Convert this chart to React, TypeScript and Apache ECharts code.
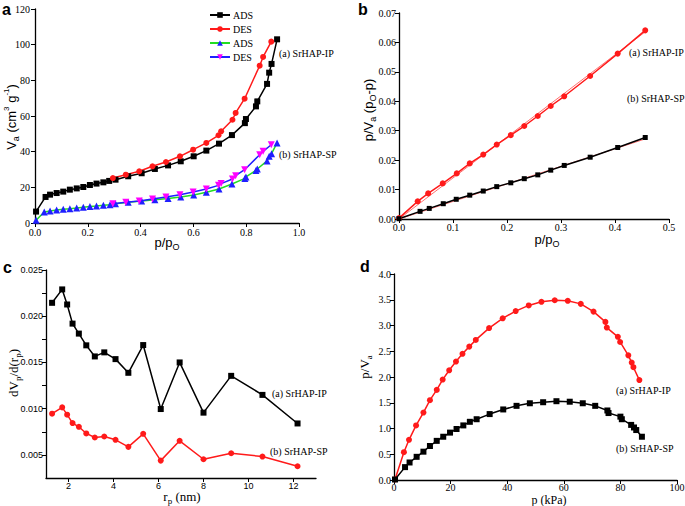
import React, { useEffect, useRef } from "react";
import * as echarts from "echarts";

// ---- Panel a: N2 isotherms ----
const aAdsIPx = [0.004,0.040,0.057,0.082,0.107,0.132,0.158,0.183,0.208,0.233,0.259,0.281,0.305,0.353,0.404,0.454,0.504,0.552,0.601,0.649,0.697,0.746,0.795,0.799,0.837,0.842,0.879,0.887,0.896,0.917];
const aAdsIPy = [6.4,14.6,15.9,16.8,17.6,18.7,19.4,20.2,21.3,22.1,22.8,23.6,24.3,26.2,27.9,30.3,32.3,34.6,37.4,40.6,44.5,49.3,56.0,58.3,65.4,68.2,78.0,84.3,89.2,103.0];
const aDesIPx = [0.295,0.344,0.395,0.445,0.496,0.549,0.599,0.649,0.695,0.705,0.748,0.760,0.794,0.851,0.864,0.895];
const aDesIPy = [25.2,27.1,29.0,31.8,34.2,37.4,41.1,44.9,49.2,51.4,57.9,61.7,69.7,88.2,93.1,101.7];
const aAdsSPx = [0.004,0.035,0.057,0.082,0.107,0.132,0.158,0.183,0.208,0.233,0.259,0.284,0.305,0.353,0.404,0.454,0.504,0.552,0.601,0.649,0.697,0.746,0.795,0.799,0.837,0.842,0.879,0.887,0.896,0.917];
const aAdsSPy = [1.5,6.2,6.7,7.3,7.7,8.0,8.4,8.8,9.2,9.5,9.9,10.3,10.8,11.6,12.3,13.1,13.8,14.6,15.7,17.2,19.1,21.9,25.0,25.8,29.5,30.3,34.8,37.4,38.9,44.9];
const aDesSPx = [0.295,0.344,0.395,0.445,0.496,0.549,0.599,0.649,0.695,0.705,0.748,0.760,0.794,0.851,0.864,0.895];
const aDesSPy = [10.8,11.6,12.3,13.5,14.6,15.9,17.4,19.1,21.1,22.1,24.7,26.5,29.9,38.3,40.2,43.9];

// ---- Panel b: BET plots ----
const bIPx = [0,0.0346,0.054,0.081,0.107,0.131,0.156,0.181,0.207,0.232,0.257,0.281,0.306,0.354,0.405,0.456];
const bIPy = [0.0003,0.0060,0.0087,0.0121,0.0155,0.0189,0.0219,0.0253,0.0285,0.0316,0.0350,0.0384,0.0417,0.0486,0.0562,0.0641];
const bSPx = [0,0.039,0.056,0.082,0.106,0.131,0.156,0.181,0.207,0.232,0.257,0.281,0.306,0.354,0.405,0.456];
const bSPy = [0.0001,0.0026,0.0036,0.0052,0.0067,0.0081,0.0095,0.0110,0.0123,0.0137,0.0150,0.0166,0.0182,0.0210,0.0243,0.0277];
const bFitX = [0, 0.456];
const bFitIP = [0, 0.0636];
const bFitSP = [0, 0.0272];

// ---- Panel c: pore size distribution ----
const cX = [1.27,1.72,1.94,2.18,2.46,2.79,3.17,3.59,4.09,4.66,5.32,6.10,6.94,8.00,9.23,10.62,12.18];
const cIP = [0.02145,0.0229,0.02127,0.0192,0.01812,0.01685,0.01565,0.01609,0.01536,0.01388,0.01688,0.00996,0.0150,0.00957,0.01355,0.01149,0.0084];
const cSP = [0.00946,0.01014,0.00935,0.00844,0.00804,0.00732,0.00688,0.00699,0.00663,0.00587,0.00728,0.00438,0.00652,0.00453,0.00518,0.00482,0.00377];

// ---- Panel d: Langmuir-type plots ----
const dIPx = [0.35,3.5,5.3,7.8,10.4,12.7,15.1,17.2,19.5,21.9,24.2,26.6,28.9,33.6,38.4,43.0,47.6,52.1,56.8,61.4,66.0,70.5,74.7,75.2,79.1,79.9,82.8,84.0,84.6,86.7];
const dIPy = [0.01,0.54,0.78,1.06,1.31,1.55,1.75,1.95,2.13,2.30,2.45,2.59,2.72,2.95,3.14,3.28,3.39,3.46,3.49,3.48,3.42,3.27,3.07,2.96,2.78,2.68,2.42,2.28,2.19,1.94];
const dSPx = [0.35,3.9,5.5,8.0,10.4,12.7,15.1,17.4,19.8,22.1,24.5,26.8,29.2,33.8,38.6,43.3,48.0,52.7,57.4,62.1,66.7,71.1,75.4,75.8,80.0,80.5,83.8,84.8,85.6,87.6];
const dSPy = [0.01,0.25,0.34,0.45,0.55,0.66,0.76,0.84,0.92,0.99,1.06,1.13,1.18,1.28,1.37,1.44,1.49,1.51,1.53,1.52,1.49,1.44,1.35,1.30,1.23,1.18,1.07,1.02,0.97,0.84];

const cXTicks = [2, 4, 6, 8, 10, 12];
const cYTicks = [0.005, 0.0075, 0.01, 0.0125, 0.015, 0.0175, 0.02, 0.0225, 0.025];
const cYLabels = [0.005, 0.01, 0.015, 0.02, 0.025];

const SERIF = "Liberation Serif";
const SANS = "Liberation Sans";

const zip = (xs: number[], ys: number[]) => xs.map((x, i) => [x, ys[i]]);

const axisBase = (gridIndex: number, font: string, size: number) => ({
  gridIndex,
  type: "value" as const,
  splitLine: { show: false },
  axisLine: { show: true, onZero: false, lineStyle: { color: "#000", width: 1.3 } },
  axisTick: { show: true, inside: false, length: 4, lineStyle: { color: "#000", width: 1 } },
  axisLabel: { color: "#000", fontFamily: font, fontSize: size, margin: 3 },
});

const INV_TRI = "path://M0,0 L10,0 L5,9 Z";

export default function App() {
  const ref = useRef<HTMLDivElement>(null);
  useEffect(() => {
    if (!ref.current) return;
    const chart = echarts.init(ref.current, null, { renderer: "svg" });

    const lineS = (name: string, xi: number, data: number[][], color: string, symbol: string, size: number, lineColor?: string, extra: any = {}) => ({
      name,
      type: "line",
      xAxisIndex: xi,
      yAxisIndex: xi,
      data,
      symbol,
      symbolSize: size,
      showSymbol: true,
      itemStyle: { color },
      lineStyle: { color: lineColor || color, width: 1.5 },
      emphasis: { disabled: true },
      z: 3,
      ...extra,
    });

    const txt = (x: number, y: number, text: string, font: string, size: number, weight = "normal") => ({
      type: "text",
      x,
      y,
      style: { text, fontFamily: font, fontSize: size, fontWeight: weight, fill: "#000", align: "left", verticalAlign: "middle" },
    });

    const rt = (x: number, y: number, text: string, font: string, size: number, rotation = 0) => ({
      type: "text",
      x,
      y,
      rotation,
      style: {
        text,
        fill: "#000",
        align: "center",
        verticalAlign: "middle",
        rich: {
          n: { fontFamily: font, fontSize: size, fill: "#000" },
          sb: { fontFamily: font, fontSize: Math.round(size * 0.7), fill: "#000", padding: [9, 0, 0, 0] },
          sp: { fontFamily: font, fontSize: Math.round(size * 0.65), fill: "#000", padding: [0, 0, 9, 0] },
        },
      },
    });

    const option: any = {
      animation: false,
      backgroundColor: "#fff",
      textStyle: { fontFamily: SERIF },
      grid: [
        { left: 35, top: 9, width: 264, height: 214, containLabel: false, outerBoundsMode: "none" },
        { left: 399, top: 13, width: 270, height: 206, containLabel: false, outerBoundsMode: "none" },
        { left: 46, top: 270, width: 270, height: 208, containLabel: false, outerBoundsMode: "none" },
        { left: 394, top: 274, width: 283, height: 206, containLabel: false, outerBoundsMode: "none" },
      ],
      xAxis: [
        { ...axisBase(0, SERIF, 10), min: 0, max: 1, interval: 0.2, axisLabel: { ...axisBase(0, SERIF, 10).axisLabel, margin: 4, formatter: (v: number) => v.toFixed(1) } },
        { ...axisBase(1, SERIF, 10), min: 0, max: 0.5, interval: 0.1, axisLabel: { ...axisBase(1, SERIF, 10).axisLabel, formatter: (v: number) => v.toFixed(1) } },
        {
          ...axisBase(2, SANS, 9),
          min: 1,
          max: 13,
          axisTick: { ...axisBase(2, SANS, 9).axisTick, customValues: cXTicks },
          axisLabel: { ...axisBase(2, SANS, 9).axisLabel, customValues: cXTicks },
        },
        { ...axisBase(3, SERIF, 10), min: 0, max: 100, interval: 20, axisLabel: { ...axisBase(3, SERIF, 10).axisLabel, margin: 2 } },
      ],
      yAxis: [
        { ...axisBase(0, SERIF, 10), min: 0, max: 120, interval: 20, axisLabel: { ...axisBase(0, SERIF, 10).axisLabel, margin: 5 } },
        { ...axisBase(1, SERIF, 10), min: 0, max: 0.07, interval: 0.01, axisLabel: { ...axisBase(1, SERIF, 10).axisLabel, formatter: (v: number) => v.toFixed(2) } },
        {
          ...axisBase(2, SANS, 9),
          min: 0.0025,
          max: 0.025,
          axisTick: { ...axisBase(2, SANS, 9).axisTick, customValues: cYTicks },
          axisLabel: { ...axisBase(2, SANS, 9).axisLabel, customValues: cYLabels, formatter: (v: number) => v.toFixed(3) },
        },
        { ...axisBase(3, SERIF, 10), min: 0, max: 4, interval: 0.5, axisLabel: { ...axisBase(3, SERIF, 10).axisLabel, formatter: (v: number) => v.toFixed(1) } },
      ],
      legend: {
        data: ["ADS-IP", "DES-IP", "ADS-SP", "DES-SP"],
        orient: "vertical",
        left: 209,
        top: 10,
        padding: 0,
        itemWidth: 20,
        itemHeight: 7,
        itemGap: 4,
        formatter: (n: string) => n.split("-")[0],
        textStyle: { fontFamily: SERIF, fontSize: 10, color: "#000", padding: [0, 0, 0, -2] },
      },
      series: [
        lineS("ADS-IP", 0, zip(aAdsIPx, aAdsIPy), "#000", "rect", 6),
        lineS("DES-IP", 0, zip(aDesIPx, aDesIPy), "#ff1a1a", "circle", 6),
        lineS("ADS-SP", 0, zip(aAdsSPx, aAdsSPy), "#1f1fff", "triangle", 7, "#22dd22"),
        lineS("DES-SP", 0, zip(aDesSPx, aDesSPy), "#ff00ff", INV_TRI, 7, "#1f1fff"),

        lineS("b-fit-ip", 1, zip(bFitX, bFitIP), "#ff4d4d", "none", 0, "#ff6666", { lineStyle: { color: "#ff7070", width: 1 }, z: 2 }),
        lineS("b-fit-sp", 1, zip(bFitX, bFitSP), "#ff4d4d", "none", 0, "#ff6666", { lineStyle: { color: "#ff7070", width: 1 }, z: 2 }),
        lineS("b-ip", 1, zip(bIPx, bIPy), "#ff1a1a", "circle", 6),
        lineS("b-sp", 1, zip(bSPx, bSPy), "#000", "rect", 5),

        lineS("c-ip", 2, zip(cX, cIP), "#000", "rect", 6),
        lineS("c-sp", 2, zip(cX, cSP), "#ff1a1a", "circle", 6),

        lineS("d-ip", 3, zip(dIPx, dIPy), "#ff1a1a", "circle", 6),
        lineS("d-sp", 3, zip(dSPx, dSPy), "#000", "rect", 6),
      ],
      graphic: [
        txt(2, 9, "a", SANS, 16, "bold"),
        txt(358, 9, "b", SANS, 16, "bold"),
        txt(3, 267, "c", SANS, 16, "bold"),
        txt(360, 266, "d", SANS, 16, "bold"),

        txt(279, 53, "(a) SrHAP-IP", SERIF, 10),
        txt(279, 154, "(b) SrHAP-SP", SERIF, 10),
        txt(629, 52, "(a) SrHAP-IP", SERIF, 10),
        txt(627, 98, "(b) SrHAP-SP", SERIF, 10),
        txt(272, 393, "(a) SrHAP-IP", SERIF, 10),
        txt(270, 451, "(b) SrHAP-SP", SERIF, 10),
        txt(616, 390, "(a) SrHAP-IP", SERIF, 10),
        txt(616, 448, "(b) SrHAP-SP", SERIF, 10),

        rt(167, 242, "{n|p/p}{sb|O}", SANS, 13),
        rt(547, 239, "{n|p/p}{sb|O}", SANS, 13),
        rt(182, 496, "{n|r}{sb|p}{n| (nm)}", SERIF, 13),
        rt(549, 500, "{n|p (kPa)}", SERIF, 12),

        rt(11, 117, "{n|V}{sb|a}{n| (cm}{sp|3}{n| g}{sp|-1}{n|)}", SANS, 13, Math.PI / 2),
        rt(368, 110, "{n|p/V}{sb|a}{n| (p}{sb|O}{n|-p)}", SANS, 13, Math.PI / 2),
        rt(13, 373, "{n|dV}{sb|p}{n|/d(r}{sb|p}{n|)}", SERIF, 13, Math.PI / 2),
        rt(364, 367, "{n|p/V}{sb|a}", SERIF, 13, Math.PI / 2),
      ],
    };

    chart.setOption(option);
    return () => chart.dispose();
  }, []);

  return <div ref={ref} style={{ width: 685, height: 506, position: "absolute", left: 0, top: 0, background: "#fff" }} />;
}
